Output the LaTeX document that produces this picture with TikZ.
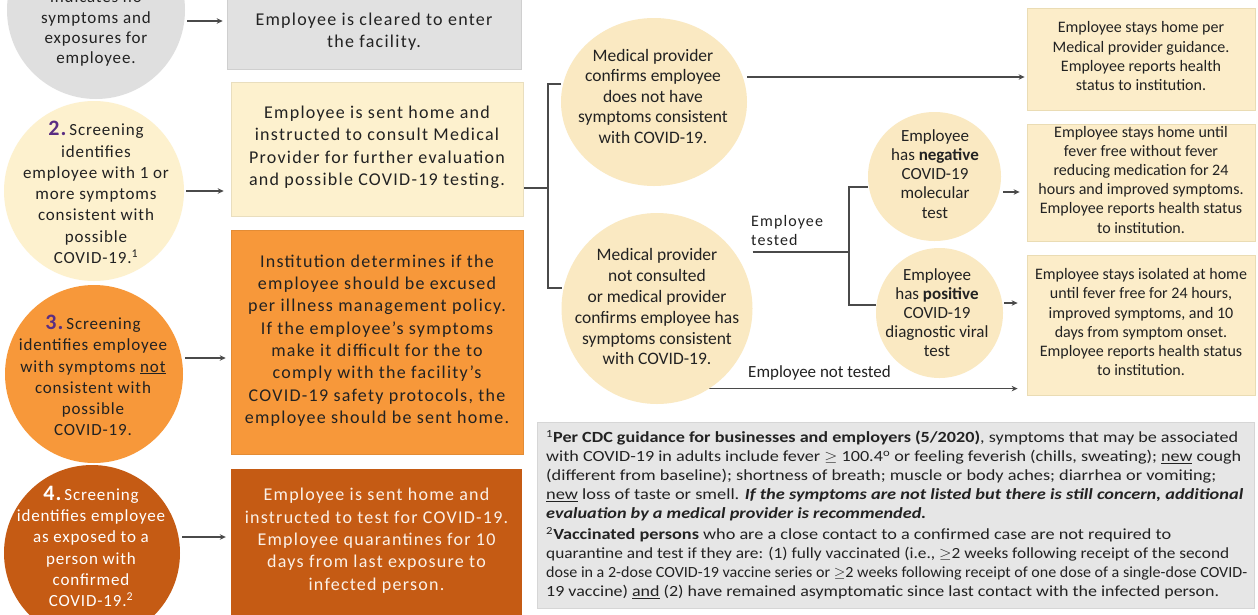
\documentclass[tikz,border=0pt]{standalone}
\usepackage{fontspec}
\setmainfont{Carlito}
\newfontfamily\spacedfont[LetterSpace=7]{Carlito}
\newfontfamily\circfont[LetterSpace=5]{Carlito}
\usetikzlibrary{shapes.geometric,arrows.meta}
\pgfdeclarelayer{bg}
\pgfsetlayers{bg,main}
\definecolor{grayA}{HTML}{DFDFDF}
\definecolor{grayB}{HTML}{E1E1E1}
\definecolor{ylw}{HTML}{FDF1CE}
\definecolor{beigeE}{HTML}{FAE9C2}
\definecolor{beigeB}{HTML}{FCEDC9}
\definecolor{beigeD}{HTML}{EADCB4}
\definecolor{orng}{HTML}{F7983A}
\definecolor{dorng}{HTML}{C55B14}
\definecolor{fng}{HTML}{E6E6E6}
\definecolor{fnd}{HTML}{D6D6D6}
\definecolor{purp}{HTML}{5A2D82}
\definecolor{txt}{HTML}{222222}
\definecolor{wtxt}{HTML}{FBF1E8}
\definecolor{linec}{HTML}{4A4A4A}
\newcommand\fl[2]{\resizebox{#1pt}{\height}{#2}}
\begin{document}
\begin{tikzpicture}[x=1pt,y=-1pt,
 st/.style={execute at begin node=\strut,execute at end node=\strut},
 arr/.style={draw=linec,line width=1.2pt,-{Stealth[length=6pt,width=5.5pt]}},
 ln/.style={draw=linec,line width=1.2pt},
 tx/.style={inner sep=0pt,align=center,text=txt,st},
 lboxt/.style={tx,rectangle,font={\spacedfont\fontsize{18}{22.3}\selectfont}},
 lcirct/.style={tx,font={\circfont\fontsize{17}{21.3}\selectfont}},
 rellt/.style={tx,font={\fontsize{17.5}{20.5}\selectfont}},
 rboxt/.style={tx,rectangle,fill=beigeB,draw=beigeD,line width=0.8pt,minimum width=228pt,font={\fontsize{16}{19.2}\selectfont}},
 shp/.style={inner sep=0pt,outer sep=0pt},
 lab/.style={inner sep=0pt,align=left,anchor=west,text=txt}]
\useasboundingbox (0,0) rectangle (1258,614);
\begin{pgfonlayer}{bg}\fill[white] (0,0) rectangle (1258,614);\end{pgfonlayer}
\clip (0,0) rectangle (1258,614);
% left circles
\node[shp,circle,fill=grayA,minimum size=178pt] (c1) at (96,10) {};
\node[shp,circle,fill=ylw,minimum size=180pt] (c2) at (94,191) {};
\node[shp,circle,fill=orng,minimum size=178pt] (c3) at (94,374) {};
\node[shp,circle,fill=dorng,minimum size=176pt] (c4) at (92,553) {};
\node[lcirct,font={\circfont\fontsize{17}{20.3}\selectfont}] (t1) at (96,30.3) {indicates no\\symptoms and\\exposures for\\employee.};
\node[lcirct] (t2) at (96,195.6) {{\color{purp}\bfseries\fontsize{22}{22}\selectfont 2.}\,Screening\\identifies\\employee with 1 or\\more symptoms\\consistent with\\possible\\COVID-19.\textsuperscript{1}};
\node[lcirct] (t3) at (93,378.7) {{\color{purp}\bfseries\fontsize{22}{22}\selectfont 3.}\,Screening\\identifies employee\\with symptoms \underline{not}\\consistent with\\possible\\COVID-19.};
\node[lcirct,text=white] (t4) at (91,549.5) {{\bfseries\fontsize{22}{22}\selectfont 4.}\,Screening\\identifies employee\\as exposed to a\\person with\\confirmed\\COVID-19.\textsuperscript{2}};
% left boxes
\node[lboxt,fill=grayB,draw=grayB!92!black,line width=0.6pt,minimum width=294pt,minimum height=71pt] (b1) at (374,33.5) {Employee is cleared to enter\\the facility.};
\node[lboxt,fill=ylw,draw=ylw!92!black,line width=0.6pt,minimum width=292pt,minimum height=134pt] (b2) at (377,149) {Employee is sent home and\\instructed to consult Medical\\Provider for further evaluation\\and possible COVID-19 testing.};
\node[lboxt,fill=orng,draw=orng!92!black,line width=0.6pt,minimum width=292pt,minimum height=224pt] (b3) at (377,342.5) {Institution determines if the\\employee should be excused\\per illness management policy.\\If the employee’s symptoms\\make it difficult for the to\\comply with the facility’s\\COVID-19 safety protocols, the\\employee should be sent home.};
\node[lboxt,fill=dorng,text=wtxt,minimum width=291pt,minimum height=147pt] (b4) at (376.5,542.5) {Employee is sent home and\\instructed to test for COVID-19.\\Employee quarantines for 10\\days from last exposure to\\infected person.};
% right ellipses
\node[shp,ellipse,fill=beigeE,minimum width=186pt,minimum height=168pt] (A) at (654,102) {};
\node[shp,ellipse,fill=beigeE,minimum width=191pt,minimum height=191pt] (B) at (657,308.5) {};
\node[shp,ellipse,fill=beigeE,minimum width=133pt,minimum height=129pt] (C) at (934.5,176.5) {};
\node[shp,ellipse,fill=beigeE,minimum width=127pt,minimum height=130pt] (D) at (939.5,313) {};
\node[rellt] (tA) at (653,99.4) {Medical provider\\confirms employee\\does not have\\symptoms consistent\\with COVID-19.};
\node[rellt,font={\fontsize{17.5}{20.8}\selectfont}] (tB) at (657,310) {Medical provider\\not consulted\\or medical provider\\confirms employee has\\symptoms consistent\\with COVID-19.};
\node[rellt,font={\fontsize{17}{19.3}\selectfont}] (tC) at (935,176.6) {Employee\\has \textbf{negative}\\COVID-19\\molecular\\test};
\node[rellt,font={\fontsize{17}{19}\selectfont}] (tD) at (937,315) {Employee\\has \textbf{positive}\\COVID-19\\diagnostic viral\\test};
% right boxes
\node[rboxt,minimum height=102pt] (R1) at (1141,59) {Employee stays home per\\Medical provider guidance.\\Employee reports health\\status to institution.};
\node[rboxt,minimum height=117pt] (R2) at (1141,182.5) {Employee stays home until\\fever free without fever\\reducing medication for 24\\hours and improved symptoms.\\Employee reports health status\\to institution.};
\node[rboxt,minimum height=140pt] (R3) at (1141,325) {Employee stays isolated at home\\until fever free for 24 hours,\\improved symptoms, and 10\\days from symptom onset.\\Employee reports health status\\to institution.};
% labels
\node[lab,font={\spacedfont\fontsize{16}{19}\selectfont}] (lt) at (751,230.5) {Employee\\tested};
\node[lab,font={\fontsize{17}{20}\selectfont}] (lnt) at (748,373) {Employee not tested};
% footnote
\node[shp,rectangle,fill=fng,draw=fnd,line width=0.8pt,minimum width=717pt,minimum height=186pt] (fn) at (895.5,515) {};
\node[anchor=north west,inner sep=0pt,align=left,text=txt,font={\fontsize{15.5}{18.8}\selectfont},execute at begin node=\strut] (fnt) at (546,430.5) {%
\fl{692}{\textsuperscript{1}\textbf{Per CDC guidance for businesses and employers (5/2020)}, symptoms that may be associated}\\
\fl{695}{with COVID-19 in adults include fever $\geq$ 100.4\textsuperscript{o} or feeling feverish (chills, sweating); \underline{new} cough}\\
\fl{670}{(different from baseline); shortness of breath; muscle or body aches; diarrhea or vomiting;}\\
\fl{697}{\underline{new} loss of taste or smell. \textbf{\textit{If the symptoms are not listed but there is still concern, additional}}}\\
\fl{380}{\textbf{\textit{evaluation by a medical provider is recommended.}}}\\[3pt]
\fl{625}{\textsuperscript{2}\textbf{Vaccinated persons} who are a close contact to a confirmed case are not required to}\\
\fl{683}{quarantine and test if they are: (1) fully vaccinated (i.e., $\geq$2 weeks following receipt of the second}\\
\fl{701}{dose in a 2-dose COVID-19 vaccine series or $\geq$2 weeks following receipt of one dose of a single-dose COVID-}\\
\fl{673}{19 vaccine) \underline{and} (2) have remained asymptomatic since last contact with the infected person.}};
% connectors
\coordinate (y1) at (0,21);
\coordinate (y2) at (0,191);
\coordinate (y3) at (0,358);
\coordinate (y4) at (0,537);
\coordinate (k1) at (548,188);
\coordinate (k1t) at (548,84);
\coordinate (k1b) at (548,288);
\coordinate (k2) at (849,252);
\coordinate (k2t) at (849,187);
\coordinate (k2b) at (849,305);
\coordinate (yA) at (0,77);
\coordinate (yC) at (0,192);
\coordinate (yD) at (0,303);
\begin{pgfonlayer}{bg}
\draw[arr,shorten <=2pt,shorten >=4pt] (c1.east |- y1) -- (b1.west |- y1);
\draw[arr,shorten <=2pt,shorten >=7pt] (c2.east |- y2) -- (b2.west |- y2);
\draw[arr,shorten <=2pt,shorten >=5pt] (c3.east |- y3) -- (b3.west |- y3);
\draw[arr,shorten <=2pt,shorten >=5pt] (c4.east |- y4) -- (b4.west |- y4);
\draw[ln] (b2.east |- k1) -- (k1);
\draw[ln] (A.west |- k1t) -- (k1t) -- (k1b) -- (B.west |- k1b);
\draw[ln] (B.east |- k2) -- (k2);
\draw[ln] (C.west |- k2t) -- (k2t) -- (k2b) -- (D.west |- k2b);
\draw[arr,shorten >=2pt] (A.east |- yA) -- (R1.west |- yA);
\draw[arr,shorten <=2pt,shorten >=7pt] (C.east |- yC) -- (R2.west |- yC);
\draw[arr,shorten <=1pt,shorten >=9pt] (D.east |- yD) -- (R3.west |- yD);
\draw[arr,shorten >=9pt] (B.-57) -- (B.-57 -| R3.west);
\end{pgfonlayer}
\end{tikzpicture}
\end{document}
